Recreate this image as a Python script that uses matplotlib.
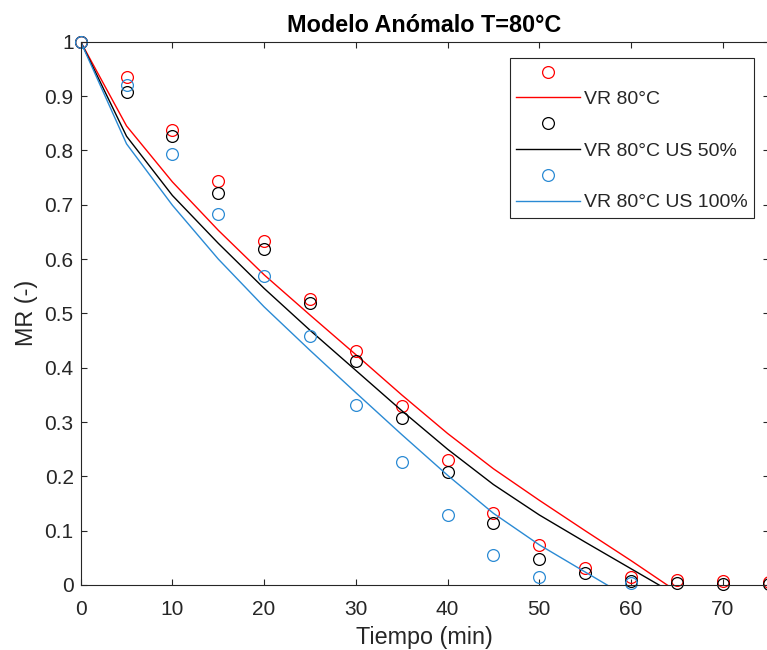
import matplotlib
matplotlib.use("Agg")
import matplotlib.pyplot as plt
from matplotlib.ticker import FormatStrFormatter, MultipleLocator

plt.rcParams['font.family'] = ['Liberation Sans', 'DejaVu Sans']

# ---------------------------------
# Datos experimentales (MR vs tiempo)
# ---------------------------------
t = [0, 5, 10, 15, 20, 25, 30, 35, 40, 45, 50, 55, 60, 65, 70, 75]
mr_vr = [1.0, 0.935, 0.838, 0.744, 0.634, 0.527, 0.430, 0.329, 0.230, 0.133,
         0.073, 0.031, 0.015, 0.009, 0.007, 0.005]
mr_us50 = [1.0, 0.907, 0.826, 0.722, 0.619, 0.519, 0.413, 0.307, 0.208, 0.115,
           0.048, 0.022, 0.008, 0.004, 0.002, 0.001]
t_us100 = [0, 5, 10, 15, 20, 25, 30, 35, 40, 45, 50, 60]
mr_us100 = [1.0, 0.921, 0.793, 0.683, 0.569, 0.459, 0.331, 0.227, 0.128, 0.056,
            0.014, 0.004]

# Modelo anómalo (valores ajustados, negativos quedan fuera del eje)
fit_vr = [1.0, 0.845, 0.742, 0.653, 0.571, 0.497, 0.424, 0.350, 0.279, 0.214,
          0.156, 0.100, 0.045, -0.012, -0.068, -0.124]
fit_us50 = [1.0, 0.826, 0.717, 0.629, 0.546, 0.469, 0.395, 0.321, 0.250, 0.185,
            0.129, 0.079, 0.030, -0.019, -0.068, -0.117]
fit_us100 = [1.0, 0.812, 0.699, 0.600, 0.512, 0.432, 0.354, 0.277, 0.202, 0.132,
             0.074, 0.024, -0.026, -0.076, -0.126, -0.176]

labels = ['VR 80°C', 'VR 80°C US 50%', 'VR 80°C US 100%']
c_red = '#FF0000'
c_black = '#000000'
c_blue = '#2a8ad4'

fig = plt.figure(figsize=(7.67, 6.5), dpi=100)
ax = fig.add_axes([0.1052, 0.1, 0.8968, 0.8358])

ms = 8.5
p1, = ax.plot(t, mr_vr, 'o', mfc='none', mec=c_red, ms=ms, mew=0.9, clip_on=False)
l1, = ax.plot(t, fit_vr, '-', color=c_red, lw=1.0)
p2, = ax.plot(t, mr_us50, 'o', mfc='none', mec=c_black, ms=ms, mew=0.9, clip_on=False)
l2, = ax.plot(t, fit_us50, '-', color=c_black, lw=1.0)
p3, = ax.plot(t_us100, mr_us100, 'o', mfc='none', mec=c_blue, ms=ms, mew=0.9, clip_on=False)
l3, = ax.plot(t, fit_us100, '-', color=c_blue, lw=1.0)

ax.set_xlim(0, 75)
ax.set_ylim(0, 1)
ax.xaxis.set_major_locator(MultipleLocator(10))
ax.yaxis.set_major_locator(MultipleLocator(0.1))
ax.yaxis.set_major_formatter(FormatStrFormatter('%g'))

axc = '#262626'
for s in ax.spines.values():
    s.set_color(axc)
    s.set_linewidth(0.8)
ax.tick_params(direction='in', length=4.5, width=0.8, colors=axc,
               labelsize=15, top=True, right=True, pad=5)
ax.tick_params(axis='x', pad=11)
for lab in ax.get_xticklabels() + ax.get_yticklabels():
    lab.set_color(axc)

ax.set_xlabel('Tiempo (min)', fontsize=16.8, color=axc, labelpad=5)
ax.set_ylabel('MR (-)', fontsize=16.8, color=axc, labelpad=5)
ax.set_title('Modelo Anómalo T=80°C', fontsize=16.8, fontweight='bold', pad=7)

leg = ax.legend([p1, l1, p2, l2, p3, l3], ['', labels[0], '', labels[1], '', labels[2]],
                loc='upper right', bbox_to_anchor=(0.979, 0.970), borderaxespad=0,
                fontsize=14, handlelength=3.25, handletextpad=0.2,
                labelspacing=0.42, fancybox=False, framealpha=1,
                edgecolor=axc, borderpad=0.35)
leg.get_frame().set_linewidth(0.8)
for txt in leg.get_texts():
    txt.set_color(axc)

fig.savefig('out.png', dpi=100)
